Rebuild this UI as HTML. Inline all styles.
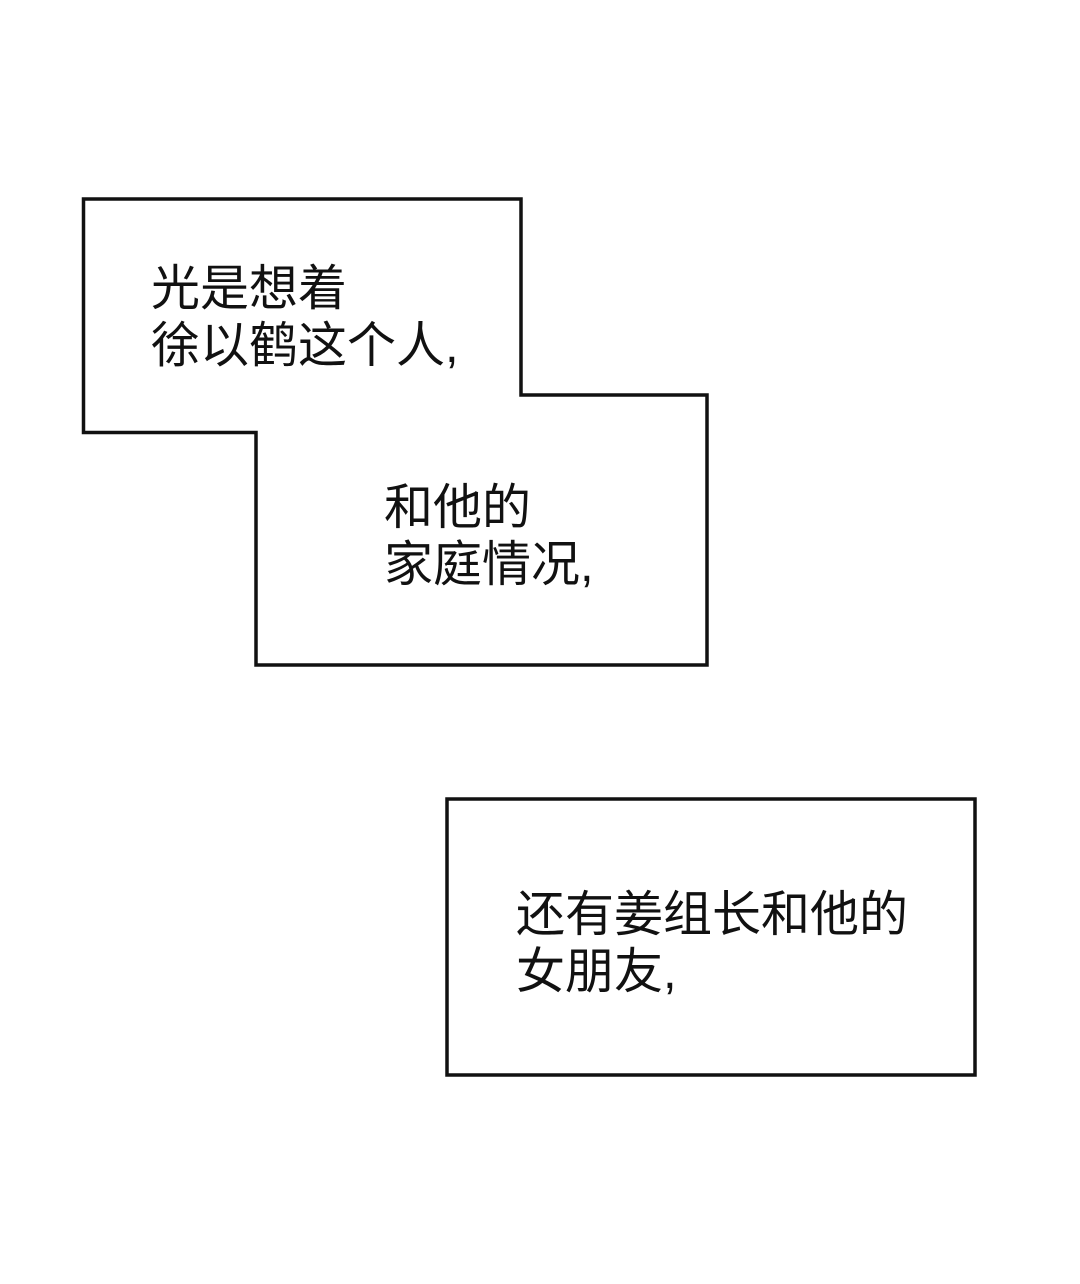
<!DOCTYPE html>
<html><head><meta charset="utf-8"><style>
html,body{margin:0;padding:0;background:#fff;}
body{width:1080px;height:1284px;position:relative;overflow:hidden;}
.t{position:absolute;font-family:"Liberation Sans","Noto Sans CJK SC",sans-serif;font-size:49px;line-height:57px;color:#111;white-space:nowrap;}
</style></head><body>
<svg width="1080" height="1284" style="position:absolute;left:0;top:0">
<polygon points="83.5,199 521,199 521,395 707,395 707,665 256,665 256,432.5 83.5,432.5" fill="#fff" stroke="#111" stroke-width="3.5"/>
<rect x="447" y="799" width="528" height="276" fill="#fff" stroke="#111" stroke-width="3.5"/>
</svg>
<div class="t" style="left:151px;top:261px">光是想着<br>徐以鹤这个人,</div>
<div class="t" style="left:384px;top:480px">和他的<br>家庭情况,</div>
<div class="t" style="left:516px;top:887px">还有姜组长和他的<br>女朋友,</div>
</body></html>
